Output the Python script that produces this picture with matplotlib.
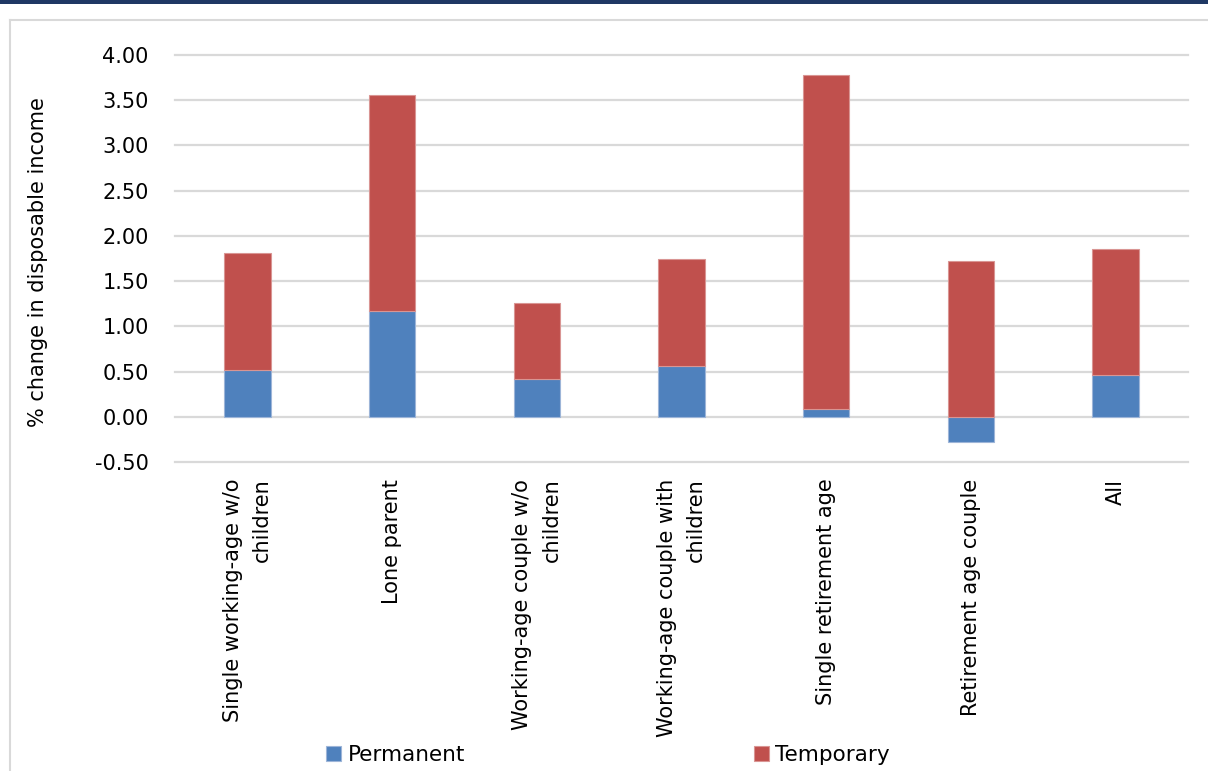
import matplotlib
matplotlib.use("Agg")
import matplotlib.pyplot as plt
from matplotlib.patches import Rectangle
from matplotlib.lines import Line2D
import numpy as np

categories = [
    "Single working-age w/o\nchildren",
    "Lone parent",
    "Working-age couple w/o\nchildren",
    "Working-age couple with\nchildren",
    "Single retirement age",
    "Retirement age couple",
    "All",
]
permanent = [0.52, 1.17, 0.42, 0.56, 0.09, -0.28, 0.46]
temporary = [1.29, 2.39, 0.84, 1.18, 3.69, 1.72, 1.40]
yticks = [-0.5, 0.0, 0.5, 1.0, 1.5, 2.0, 2.5, 3.0, 3.5, 4.0]

BLUE = "#4f81bd"
RED = "#c0504d"
GRID = "#d9d9d9"
W, H = 1208, 771

plt.rcParams["font.family"] = ["DejaVu Sans"]
fig = plt.figure(figsize=(W / 100, H / 100), dpi=100)
fig.patch.set_facecolor("white")

# top navy band and light frame
fig.add_artist(Rectangle((0, 1 - 3.5 / H), 1, 3.5 / H, transform=fig.transFigure,
                         color="#1f3864", lw=0, zorder=0))
fig.add_artist(Line2D([9.5 / W, 9.5 / W], [0, 1 - 19.5 / H], transform=fig.transFigure,
                      color=GRID, lw=1.5))
fig.add_artist(Line2D([9.5 / W, 1], [1 - 19.5 / H, 1 - 19.5 / H], transform=fig.transFigure,
                      color=GRID, lw=1.5))

left, right = 175 / W, 1188 / W
top, bottom = 1 - 55 / H, 1 - 462 / H
ax = fig.add_axes([left, bottom, right - left, top - bottom])

x = np.arange(len(categories))
perm = np.array(permanent)
temp = np.array(temporary)
temp_bottom = np.where(perm > 0, perm, 0)

for yv in yticks:
    ax.axhline(yv, color=GRID, lw=1.6, zorder=0, clip_on=False)

bw = 0.32
ax.bar(x, perm, width=bw, color=BLUE, edgecolor="#9db5d8", linewidth=0.8,
       label="Permanent", zorder=2)
ax.bar(x, temp, width=bw, bottom=temp_bottom, color=RED, edgecolor="#d99593",
       linewidth=0.8, label="Temporary", zorder=2)

ax.set_xlim(-0.5, len(categories) - 0.5)
ax.set_ylim(-0.5, 4.0)
ax.set_yticks(yticks)
ax.set_yticklabels([f"{v:.2f}" for v in yticks], fontsize=15)
ax.set_xticks(x)
ax.set_xticklabels(categories, rotation=90, fontsize=15, ha="center", va="top",
                   multialignment="right", linespacing=1.6)
ax.tick_params(axis="y", length=0, pad=19)
ax.tick_params(axis="x", length=0, pad=12)
for s in ax.spines.values():
    s.set_visible(False)
ax.set_facecolor("none")

fig.text(38 / W, 1 - 262 / H, "% change in disposable income", rotation=90,
         ha="center", va="center", fontsize=15)

handles, labels = ax.get_legend_handles_labels()
fig.legend(handles, labels, loc="center", bbox_to_anchor=(608 / W, 1 - 755 / H),
           ncol=2, frameon=False, fontsize=15.5, handlelength=0.7, handleheight=0.7,
           handletextpad=0.3, columnspacing=13.4, borderpad=0)

fig.savefig("out.png", dpi=100, facecolor="white")
